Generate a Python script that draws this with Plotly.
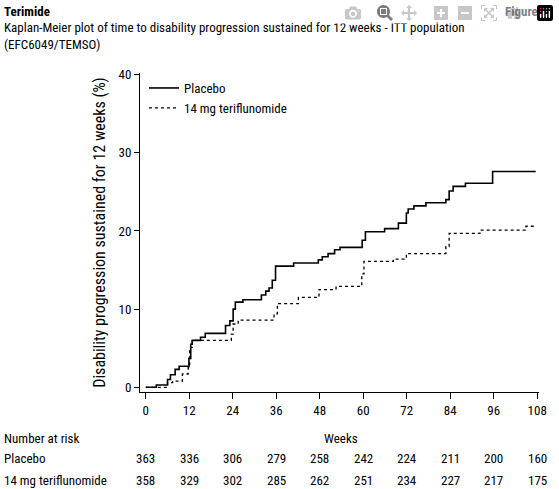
import plotly.graph_objects as go

# Kaplan-Meier step data (weeks, cumulative %)
placebo_weeks = [0, 2.9, 6.0, 6.8, 8.1, 9.2, 11.9, 12.4, 12.8, 15.1, 16.4, 22.0, 23.2, 24.1, 24.7,
                 26.8, 31.9, 33.1, 34.0, 34.9, 35.8, 40.8, 47.6, 48.7, 50.3, 52.1, 53.6, 59.7, 60.6,
                 65.9, 69.7, 71.9, 72.4, 74.0, 77.3, 82.8, 83.7, 84.8, 88.2, 95.7, 107.6]
placebo_pct = [0, 0.3, 1.0, 1.6, 2.3, 2.7, 3.7, 5.5, 6.0, 6.4, 6.9, 7.9, 8.5, 10.0, 10.9,
               11.2, 11.8, 12.3, 12.7, 13.7, 15.5, 15.9, 16.3, 16.7, 17.1, 17.6, 17.9, 18.8, 19.9,
               20.3, 21.0, 22.3, 22.8, 23.2, 23.6, 24.0, 25.1, 25.7, 26.1, 27.6, 27.6]
teri_weeks = [0, 6.0, 7.4, 10.1, 11.7, 12.1, 12.8, 23.6, 24.1, 25.5, 35.4, 36.3, 42.1, 47.8,
              52.5, 59.6, 60.2, 68.3, 71.9, 82.8, 83.7, 92.2, 104.9, 107.6]
teri_pct = [0, 0.6, 0.8, 1.7, 2.5, 5.1, 6.0, 6.8, 8.1, 8.6, 9.4, 10.7, 11.5, 12.5,
            12.9, 14.5, 16.1, 16.4, 17.1, 18.0, 19.7, 20.1, 20.6, 20.6]

risk_weeks = [0, 12, 24, 36, 48, 60, 72, 84, 96, 108]
risk_placebo = [363, 336, 306, 279, 258, 242, 224, 211, 200, 160]
risk_teri = [358, 329, 302, 285, 262, 251, 234, 227, 217, 175]

FONT = "Liberation Sans Narrow, Roboto Condensed, Liberation Sans, Arial"

fig = go.Figure()
fig.add_trace(go.Scatter(x=placebo_weeks, y=placebo_pct, mode="lines", line_shape="hv",
                         name="Placebo", line=dict(color="black", width=1.6)))
fig.add_trace(go.Scatter(x=teri_weeks, y=teri_pct, mode="lines", line_shape="hv",
                         name="14 mg teriflunomide", line=dict(color="black", width=1.3, dash="dot")))

ann = [
    dict(text="<b>Terimide</b>", x=0, y=489 - 2, xanchor="left", yanchor="top"),
    dict(text="<b>Figure 1</b>", x=555, y=489 - 2, xanchor="right", yanchor="top"),
    dict(text="Kaplan-Meier plot of time to disability progression sustained for 12 weeks - ITT population<br>(EFC6049/TEMSO)",
         x=0, y=489 - 18, xanchor="left", yanchor="top", align="left"),
]
out = []
for a in ann:
    out.append(dict(a, xref="paper", yref="paper", showarrow=False,
                    x=(a["x"] - 140) / 405, y=(a["y"] - 97) / 319,
                    font=dict(family=FONT, size=13, color="black")))

rows = [("Number at risk", -0.147), ("Placebo", -0.21), ("14 mg teriflunomide", -0.276)]
for label, yy in rows:
    out.append(dict(text=label, xref="paper", yref="paper", x=-140 / 405, y=yy, xanchor="left",
                    yanchor="middle", showarrow=False, font=dict(family=FONT, size=13, color="black")))
out.append(dict(text="Weeks", xref="x", yref="paper", x=54, y=-0.147, yanchor="middle",
                showarrow=False, font=dict(family=FONT, size=13, color="black")))
for w, p, t in zip(risk_weeks, risk_placebo, risk_teri):
    for v, yy in ((p, -0.21), (t, -0.276)):
        out.append(dict(text=str(v), xref="x", yref="paper", x=w, y=yy, yanchor="middle",
                        showarrow=False, font=dict(family=FONT, size=13, color="black")))

fig.update_layout(
    width=559, height=489, plot_bgcolor="white", paper_bgcolor="white",
    margin=dict(l=140, r=14, t=73, b=97),
    font=dict(family=FONT, size=13, color="black"),
    showlegend=True,
    legend=dict(x=0.01, y=1.0, xanchor="left", yanchor="top", bgcolor="rgba(0,0,0,0)",
                font=dict(size=13), tracegroupgap=0),
    xaxis=dict(range=[-1.6, 108.5], tickvals=risk_weeks, showline=True, linecolor="black",
               ticks="outside", ticklen=6, tickcolor="black", showgrid=False, zeroline=False),
    yaxis=dict(range=[-0.6, 40.2], tickvals=[0, 10, 20, 30, 40], showline=True, linecolor="black",
               ticks="outside", ticklen=5, tickcolor="black", showgrid=False, zeroline=False,
               title=dict(text="Disability progression sustained for 12 weeks (%)", standoff=8)),
    annotations=out,
)
fig.write_html("out.html")

# drop the default page margin so the figure sits at the window's top-left corner
with open("out.html", encoding="utf-8") as f:
    page = f.read()
page = page.replace("<body>", '<body style="margin:0;overflow:hidden">', 1)
with open("out.html", "w", encoding="utf-8") as f:
    f.write(page)
